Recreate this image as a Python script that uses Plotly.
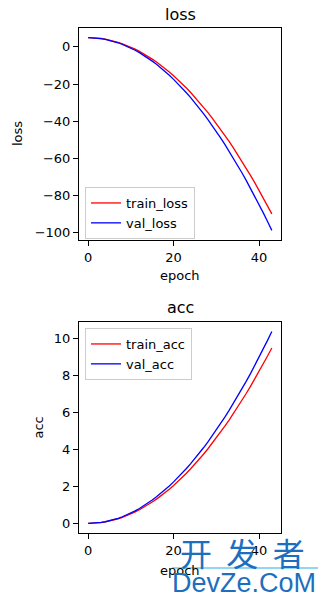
import plotly.graph_objects as go

# Training history (44 epochs)
epochs = list(range(44))

train_loss = [5.0, 4.95, 4.79, 4.54, 4.18, 3.72, 3.15, 2.48, 1.71, 0.84,
              -0.14, -1.22, -2.40, -3.69, -5.07, -6.57, -8.16, -9.85, -11.65, -13.56,
              -15.56, -17.67, -19.88, -22.19, -24.61, -27.13, -29.75, -32.47, -35.30, -38.23,
              -41.26, -44.40, -47.63, -50.97, -54.42, -57.97, -61.61, -65.37, -69.22, -73.18,
              -77.24, -81.40, -85.67, -90.04]
val_loss = [5.0, 4.94, 4.78, 4.49, 4.10, 3.60, 2.98, 2.25, 1.40, 0.45,
            -0.62, -1.80, -3.09, -4.50, -6.02, -7.65, -9.39, -11.24, -13.21, -15.29,
            -17.48, -19.78, -22.20, -24.73, -27.37, -30.13, -32.99, -35.97, -39.06, -42.26,
            -45.58, -49.01, -52.55, -56.20, -59.97, -63.85, -67.84, -71.94, -76.15, -80.48,
            -84.92, -89.47, -94.14, -98.91]
train_acc = [0.0, 0.005, 0.021, 0.046, 0.082, 0.128, 0.185, 0.252, 0.329, 0.416,
             0.514, 0.622, 0.740, 0.869, 1.007, 1.157, 1.316, 1.485, 1.665, 1.856,
             2.056, 2.267, 2.488, 2.719, 2.961, 3.213, 3.475, 3.747, 4.030, 4.323,
             4.626, 4.940, 5.263, 5.597, 5.942, 6.297, 6.661, 7.037, 7.422, 7.818,
             8.224, 8.640, 9.067, 9.504]
val_acc = [0.0, 0.006, 0.022, 0.051, 0.090, 0.140, 0.202, 0.275, 0.360, 0.455,
           0.562, 0.680, 0.809, 0.950, 1.102, 1.265, 1.439, 1.624, 1.821, 2.029,
           2.248, 2.478, 2.720, 2.973, 3.237, 3.513, 3.799, 4.097, 4.406, 4.726,
           5.058, 5.401, 5.755, 6.120, 6.497, 6.885, 7.284, 7.694, 8.115, 8.548,
           8.992, 9.447, 9.914, 10.391]

x_ticks = [0, 20, 40]
loss_ticks = [0, -20, -40, -60, -80, -100]
acc_ticks = [0, 2, 4, 6, 8, 10]

W, H = 328, 603
FONT = "DejaVu Sans"


def px(x):
    return x / W


def py(y):
    return 1 - y / H


fig = go.Figure()
fig.add_trace(go.Scatter(x=epochs, y=train_loss, mode="lines", name="train_loss",
                         line=dict(color="red", width=1.3), xaxis="x", yaxis="y",
                         legend="legend"))
fig.add_trace(go.Scatter(x=epochs, y=val_loss, mode="lines", name="val_loss",
                         line=dict(color="blue", width=1.3), xaxis="x", yaxis="y",
                         legend="legend"))
fig.add_trace(go.Scatter(x=epochs, y=train_acc, mode="lines", name="train_acc",
                         line=dict(color="red", width=1.3), xaxis="x2", yaxis="y2",
                         legend="legend2"))
fig.add_trace(go.Scatter(x=epochs, y=val_acc, mode="lines", name="val_acc",
                         line=dict(color="blue", width=1.3), xaxis="x2", yaxis="y2",
                         legend="legend2"))

axis_style = dict(showline=True, mirror=True, linecolor="black", linewidth=1,
                  ticks="outside", ticklen=5, tickwidth=1, tickcolor="black",
                  showgrid=False, zeroline=False,
                  tickfont=dict(family=FONT, size=13, color="black"))

x_dom = [px(79), px(281)]
fig.update_layout(
    width=W, height=H, autosize=False,
    margin=dict(l=0, r=0, t=0, b=0),
    paper_bgcolor="white", plot_bgcolor="white",
    font=dict(family=FONT, size=13, color="black"),
    xaxis=dict(domain=x_dom, anchor="y", range=[-2.15, 45.15], tickvals=x_ticks, **axis_style),
    yaxis=dict(domain=[py(240), py(28)], anchor="x", range=[-104.1, 10.2],
               tickvals=loss_ticks, **axis_style),
    xaxis2=dict(domain=x_dom, anchor="y2", range=[-2.15, 45.15], tickvals=x_ticks, **axis_style),
    yaxis2=dict(domain=[py(533), py(322)], anchor="x2", range=[-0.52, 10.91],
                tickvals=acc_ticks, **axis_style),
    legend=dict(x=px(85), y=py(187), xanchor="left", yanchor="top",
                bgcolor="rgba(255,255,255,0.8)", bordercolor="#cccccc", borderwidth=1,
                font=dict(family=FONT, size=13), tracegroupgap=0),
    legend2=dict(x=px(85), y=py(328), xanchor="left", yanchor="top",
                 bgcolor="rgba(255,255,255,0.8)", bordercolor="#cccccc", borderwidth=1,
                 font=dict(family=FONT, size=13), tracegroupgap=0),
)


def label(text, x, y, size=13, angle=0):
    fig.add_annotation(text=text, x=px(x), y=py(y), xref="paper", yref="paper",
                       xanchor="center", yanchor="middle", showarrow=False,
                       textangle=angle, font=dict(family=FONT, size=size, color="black"))


# subplot titles and axis titles
label("loss", 180, 14, size=16)
label("epoch", 180, 275)
label("loss", 17, 134, angle=-90)
label("acc", 180, 307, size=16)
label("epoch", 180, 570)
label("acc", 38, 427.5, angle=-90)

# site watermark
fig.add_annotation(text="开  发  者", x=px(242), y=py(552), xref="paper", yref="paper",
                   xanchor="center", yanchor="middle", showarrow=False,
                   font=dict(family="Noto Sans CJK SC", size=32, color="#1d6fbe"))
fig.add_shape(type="line", xref="paper", yref="paper", x0=px(172), x1=px(318),
              y0=py(568), y1=py(568), line=dict(color="#6cc8f0", width=1.5))
fig.add_annotation(text="DevZe.CoM", x=px(244), y=py(583), xref="paper", yref="paper",
                   xanchor="center", yanchor="middle", showarrow=False,
                   font=dict(family="Liberation Sans", size=27, color="#1d6fbe"))

fig.write_html("out.html")
